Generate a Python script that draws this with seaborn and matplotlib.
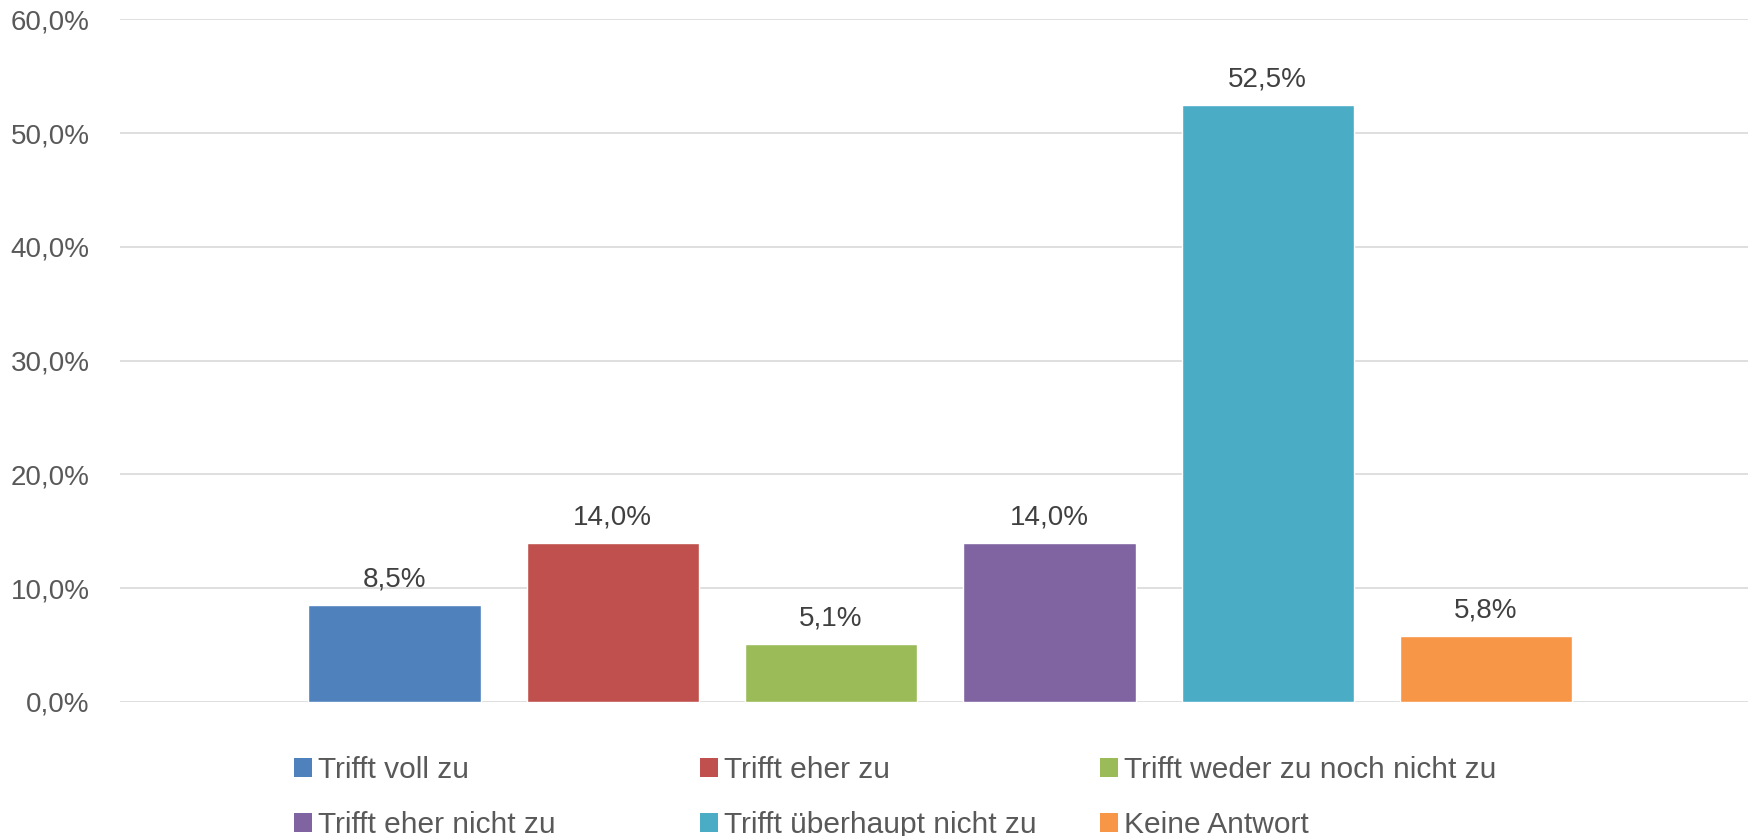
import matplotlib
matplotlib.use("Agg")
import matplotlib.pyplot as plt
from matplotlib.patches import Patch
from matplotlib.ticker import FuncFormatter
import seaborn as sns
import pandas as pd

# chart data
categories = [
    "Trifft voll zu",
    "Trifft eher zu",
    "Trifft weder zu noch nicht zu",
    "Trifft eher nicht zu",
    "Trifft überhaupt nicht zu",
    "Keine Antwort",
]
values = [8.5, 14.0, 5.1, 14.0, 52.5, 5.8]
colors = ["#4F81BD", "#C0504D", "#9BBB59", "#8064A2", "#4BACC6", "#F79646"]
y_ticks = [0, 10, 20, 30, 40, 50, 60]

sns.set_style("white")
num_font = ["Liberation Sans Narrow", "Liberation Sans", "DejaVu Sans"]
txt_font = ["Liberation Sans", "DejaVu Sans"]
plt.rcParams["font.family"] = num_font


def pct(v):
    return f"{v:.1f}%".replace(".", ",")


df = pd.DataFrame({"kategorie": categories, "anteil": values})

fig = plt.figure(figsize=(17.65, 8.36), dpi=100)
ax = fig.add_axes([0.068, 0.1603, 0.9224, 0.8166])

sns.barplot(data=df, x="kategorie", y="anteil", hue="kategorie",
            palette=colors, width=0.79, saturation=1, legend=False, ax=ax)

for cont, v in zip(ax.containers, values):
    ax.bar_label(cont, labels=[pct(v)], padding=9, fontsize=20,
                 color="#404040", family=num_font)

ax.set_ylim(0, 60)
ax.set_xlim(-1.257, 6.2)
ax.set_yticks(y_ticks)
ax.yaxis.set_major_formatter(FuncFormatter(lambda v, _: pct(v)))
ax.tick_params(axis="y", length=0, pad=22, labelsize=20, labelcolor="#595959")
ax.set_xticks([])
ax.set_xlabel("")
ax.set_ylabel("")
ax.grid(axis="y", color="#D9D9D9", linewidth=1.2)
ax.set_axisbelow(True)
for s in ax.spines.values():
    s.set_visible(False)

# legend: three fixed columns, two rows (like the office chart)
col_x = [294, 700, 1100]
for c in range(3):
    idx = [c, c + 3]
    handles = [Patch(facecolor=colors[i], edgecolor="none") for i in idx]
    labels = [categories[i] for i in idx]
    fig.legend(handles, labels, loc="upper left",
               bbox_to_anchor=(col_x[c] / 1765, 1 - 756 / 836),
               frameon=False, borderpad=0, borderaxespad=0,
               handlelength=0.6, handleheight=0.6, handletextpad=0.22,
               labelspacing=0.9,
               prop={"family": txt_font, "size": 21.5},
               labelcolor="#595959")

fig.savefig("out.png", dpi=100)
